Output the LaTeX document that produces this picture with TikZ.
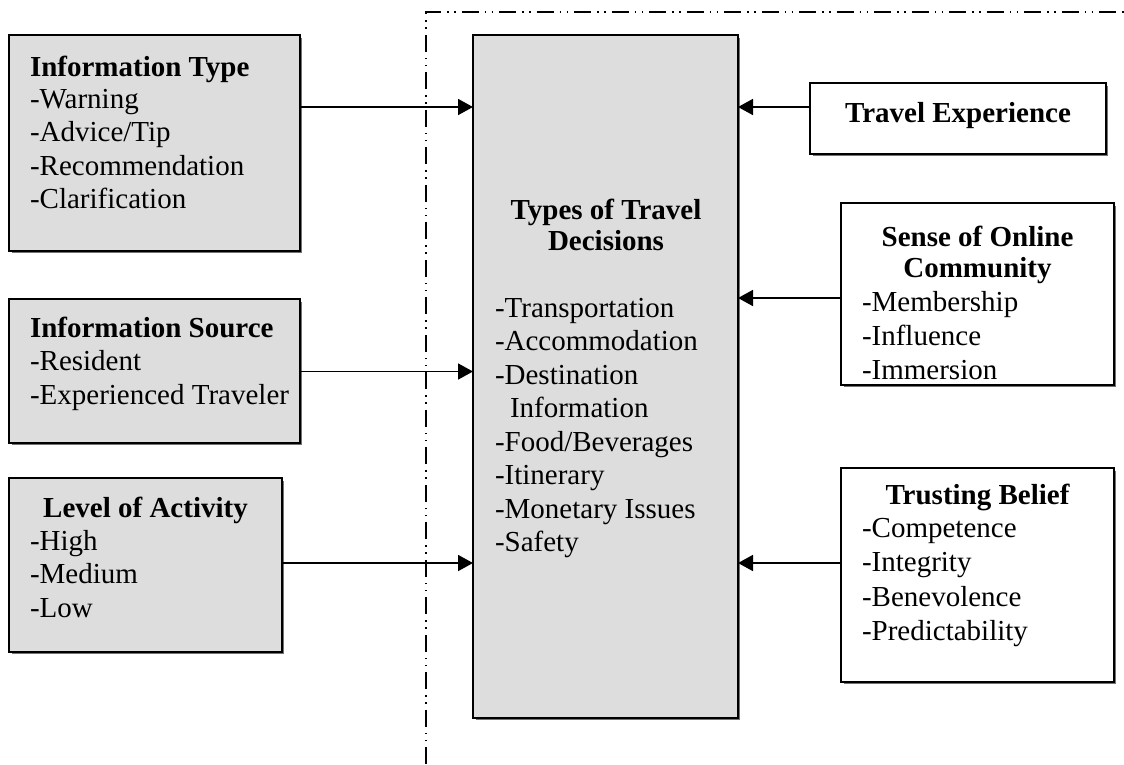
\documentclass[tikz,border=0pt]{standalone}
\usepackage{fontspec}
\setmainfont{Liberation Serif}
\usetikzlibrary{arrows.meta}
\definecolor{boxgray}{HTML}{DDDDDD}

% a left-aligned block of lines whose reference point is the first baseline
\newcommand\lines[2][l]{\begin{tabular}[t]{@{}#1@{}}#2\end{tabular}}

\begin{document}
\begin{tikzpicture}[x=1pt,y=-1pt,
  font=\fontsize{29}{33.5}\selectfont,
  frame/.style={draw=black, line width=2.2pt, inner sep=0pt, outer sep=0pt},
  gray frame/.style={frame, fill=boxgray},
  white frame/.style={frame, fill=white},
  txt/.style={inner sep=0pt, outer sep=0pt, anchor=base west},
  ctxt/.style={inner sep=0pt, outer sep=0pt, anchor=base, font=\fontsize{29}{31}\selectfont\bfseries},
  link/.style={line width=1.7pt, -{Triangle[length=15pt,width=16pt]}},
  shade line/.style={line width=1.2pt, black!55},
  boundary/.style={line width=1.7pt, dash pattern=on 17pt off 6pt on 1.5pt off 5.5pt on 1.5pt off 6pt}
]
\useasboundingbox (0,0) rectangle (1124,764);

% boundary of the online community
\coordinate (corner) at (426,12);
\coordinate (bottomend) at (426,764);
\coordinate (rightend) at (1124,12);
\draw[boundary] (bottomend) -- (corner) -- (rightend);

% boxes
\node[gray frame, minimum width=291, minimum height=216] (itype) at (154.5,143) {};
\node[gray frame, minimum width=291, minimum height=144] (isrc) at (154.5,371) {};
\node[gray frame, minimum width=273, minimum height=174] (lact) at (145.5,565) {};
\node[gray frame, minimum width=265, minimum height=683] (dec) at (605.5,376.5) {};
\node[white frame, minimum width=296, minimum height=71] (texp) at (958,118.5) {};
\node[white frame, minimum width=273, minimum height=182] (soc) at (977.5,294) {};
\node[white frame, minimum width=273, minimum height=214] (trust) at (977.5,575) {};

% right and bottom shading of each box
\foreach \b in {itype,isrc,lact,dec,texp,soc,trust}
  \draw[shade line] ([shift={(1.8pt,-3pt)}]\b.north east) -- ([shift={(1.8pt,-1.8pt)}]\b.south east) -- ([shift={(3pt,-1.8pt)}]\b.south west);

% texts
\node[txt] (itypet) at (30,76) {\textbf{Information Type}};
\node[txt] (itypei) at (30,108) {\lines{-Warning\\-Advice/Tip\\-Recommendation\\-Clarification}};
\node[txt] (isrct) at (30,337) {\textbf{Information Source}};
\node[txt] (isrci) at (30,370.5) {\lines{-Resident\\-Experienced Traveler}};
\node[ctxt] (lactt) at (145.5,517) {Level of Activity};
\node[txt] (lacti) at (30,550) {\lines{-High\\-Medium\\-Low}};
\node[ctxt] (dect) at (606,219) {\lines[c]{Types of Travel\\Decisions}};
\node[txt] (deci) at (495,317) {\lines{-Transportation\\-Accommodation\\-Destination\\\hspace*{15pt}Information\\-Food/Beverages\\-Itinerary\\-Monetary Issues\\-Safety}};
\node[ctxt] (texpt) at (958,122) {Travel Experience};
\node[ctxt] (soct) at (977.5,246) {\lines[c]{Sense of Online\\Community}};
\node[txt] (soci) at (862,311) {\fontsize{29}{34}\selectfont\lines{-Membership\\-Influence\\-Immersion}};
\node[ctxt] (trustt) at (977.5,504) {Trusting Belief};
\node[txt] (trusti) at (862,537) {\fontsize{29}{34.5}\selectfont\lines{-Competence\\-Integrity\\-Benevolence\\-Predictability}};

% connectors
\draw[link] (itype.east |- 0,107) -- (dec.west |- 0,107);
\draw[link] (isrc.east |- 0,371.5) -- (dec.west |- 0,371.5);
\draw[link] (lact.east |- 0,563) -- (dec.west |- 0,563);
\draw[link] (texp.west |- 0,107) -- (dec.east |- 0,107);
\draw[link] (soc.west |- 0,298) -- (dec.east |- 0,298);
\draw[link] (trust.west |- 0,563) -- (dec.east |- 0,563);
\end{tikzpicture}
\end{document}
